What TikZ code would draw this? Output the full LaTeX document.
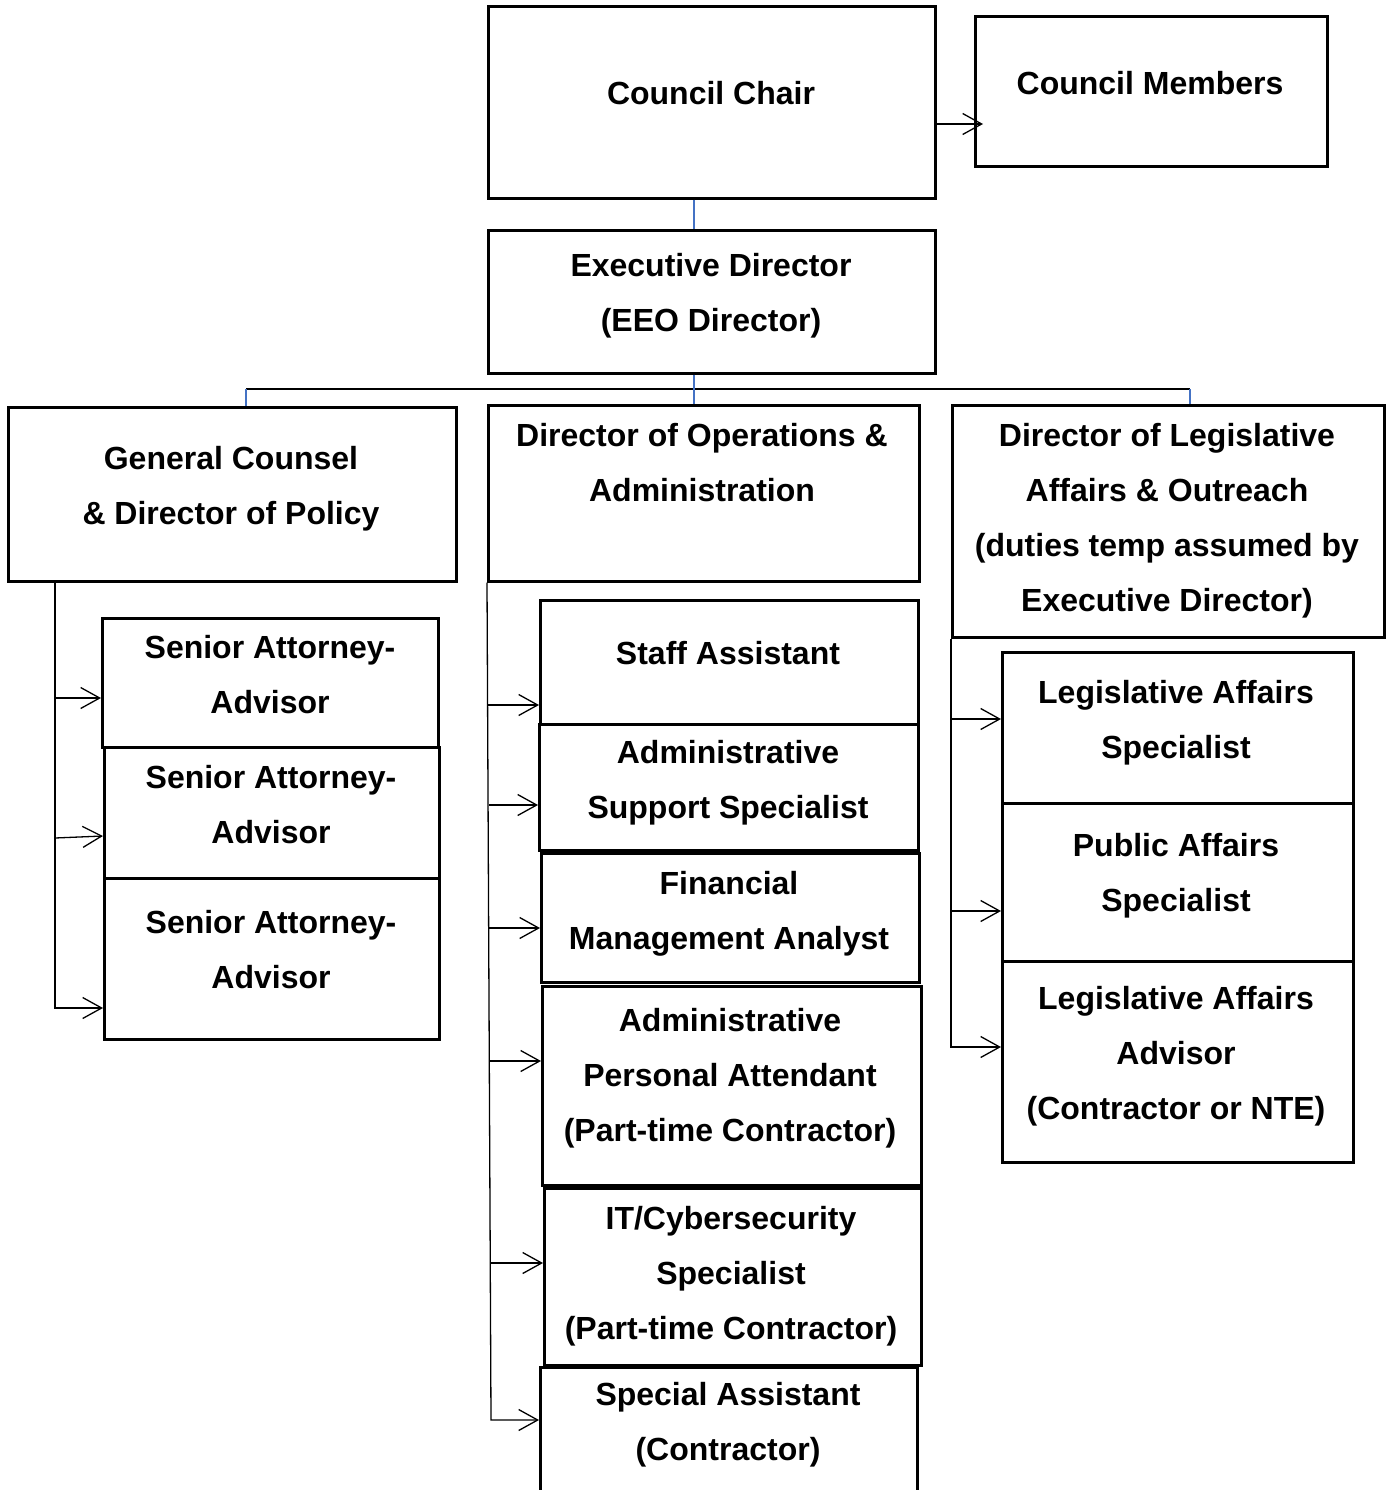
\documentclass[tikz,border=0pt]{standalone}
\usepackage{fontspec}
\setmainfont{Liberation Sans}
\usetikzlibrary{arrows.meta,calc}
\definecolor{linkblue}{RGB}{68,114,196}
\begin{document}
\begin{tikzpicture}[x=1pt,y=-1pt,
  box/.style={draw,line width=2.6pt,inner sep=0pt,anchor=north west},
  lbl/.style={font=\fontsize{32}{55}\selectfont\bfseries,align=center,inner sep=0pt},
  conn/.style={line width=1.3pt},
  bluelink/.style={draw=linkblue,line width=1.5pt},
  arr/.style={conn,-{Straight Barb[length=19pt,width=21pt,line width=1.3pt]}}]
\useasboundingbox (0,0) rectangle (1385,1490);
% boxes
\node[box,minimum width=447pt,minimum height=192pt] (cc) at (487,5) {};
\node[box,minimum width=352pt,minimum height=150pt] (cm) at (974,15) {};
\node[box,minimum width=447pt,minimum height=143pt] (ed) at (487,229) {};
\node[box,minimum width=448pt,minimum height=174pt] (gc) at (7,406) {};
\node[box,minimum width=431pt,minimum height=176pt] (ops) at (487,404) {};
\node[box,minimum width=432pt,minimum height=232pt] (leg) at (951,404) {};
\node[box,minimum width=336pt,minimum height=129pt] (sa1) at (101,617) {};
\node[box,minimum width=335pt,minimum height=131pt] (sa2) at (103,746) {};
\node[box,minimum width=335pt,minimum height=161pt] (sa3) at (103,877) {};
\node[box,minimum width=378pt,minimum height=124pt] (stf) at (539,599) {};
\node[box,minimum width=379pt,minimum height=126pt] (ass) at (538,723) {};
\node[box,minimum width=378pt,minimum height=129pt] (fma) at (540,852) {};
\node[box,minimum width=379pt,minimum height=199pt] (apa) at (541,985) {};
\node[box,minimum width=377pt,minimum height=177pt] (its) at (543,1187) {};
\node[box,minimum width=377pt,minimum height=140pt] (spa) at (539,1366) {};
\node[box,minimum width=351pt,minimum height=151pt] (las) at (1001,651) {};
\node[box,minimum width=351pt,minimum height=158pt] (pas) at (1001,802) {};
\node[box,minimum width=351pt,minimum height=201pt] (laa) at (1001,960) {};
% labels
\node[lbl] (tcc) at (711,93) {Council Chair};
\node[lbl] (tcm) at (1150,83) {Council Members};
\node[lbl] (ted) at (711,296) {Executive Director\\(EEO Director)};
\node[lbl] (tgc) at (231,488.5) {General Counsel\\\& Director of Policy};
\node[lbl] (tops) at (702,463) {Director of Operations \&\\Administration};
\node[lbl] (tleg) at (1167,521) {Director of Legislative\\Affairs \& Outreach\\(duties temp assumed by\\Executive Director)};
\node[lbl] (tsa1) at (270,675) {Senior Attorney-\\Advisor};
\node[lbl] (tsa2) at (271,805) {Senior Attorney-\\Advisor};
\node[lbl] (tsa3) at (271,950) {Senior Attorney-\\Advisor};
\node[lbl] (tstf) at (728,653) {Staff Assistant};
\node[lbl] (tass) at (728,783) {Administrative\\Support Specialist};
\node[lbl] (tfma) at (729,913.5) {Financial\\Management Analyst};
\node[lbl] (tapa) at (730,1078) {Administrative\\Personal Attendant\\(Part-time Contractor)};
\node[lbl] (tits) at (731,1276) {IT/Cybersecurity\\Specialist\\(Part-time Contractor)};
\node[lbl] (tspa) at (728,1425) {Special Assistant\\(Contractor)};
\node[lbl] (tlas) at (1176,722.5) {Legislative Affairs\\Specialist};
\node[lbl] (tpas) at (1176,876) {Public Affairs\\Specialist};
\node[lbl] (tlaa) at (1176,1056) {Legislative Affairs\\Advisor\\(Contractor or NTE)};
% top connectors
\draw[arr] (cc.east |- 0,124) -- ($(cm.west |- 0,124)+(9,0)$);
\draw[bluelink] (cc.south -| 694,0) -- (ed.north -| 694,0);
\coordinate (bus) at (694,389);
\coordinate (busl) at (246,389);
\coordinate (busr) at (1190,389);
\draw[conn] (busl) -- (busr);
\draw[bluelink] (ed.south -| bus) -- (ops.north -| bus);
\draw[bluelink] (busl) -- (gc.north -| busl);
\draw[bluelink] (busr) -- (leg.north -| busr);
% left group
\draw[arr] (gc.south -| 55,0) |- (sa3.west |- 0,1008);
\draw[arr] (55,698) -- (sa1.west |- 0,698);
\draw[arr] (55,838) -- (sa2.west |- 0,836);
% middle group
\draw[arr] (ops.south -| 487,0) -- (491,1420) -- (spa.west |- 0,1420);
\draw[arr] (487,705) -- (stf.west |- 0,705);
\draw[arr] (489,805) -- (ass.west |- 0,805);
\draw[arr] (488,928) -- (fma.west |- 0,928);
\draw[arr] (489,1061) -- (apa.west |- 0,1061);
\draw[arr] (490,1263) -- (its.west |- 0,1263);
% right group
\draw[arr] (leg.south -| 951,0) |- (laa.west |- 0,1047);
\draw[arr] (951,719) -- (las.west |- 0,719);
\draw[arr] (951,911) -- (pas.west |- 0,911);
\end{tikzpicture}
\end{document}
